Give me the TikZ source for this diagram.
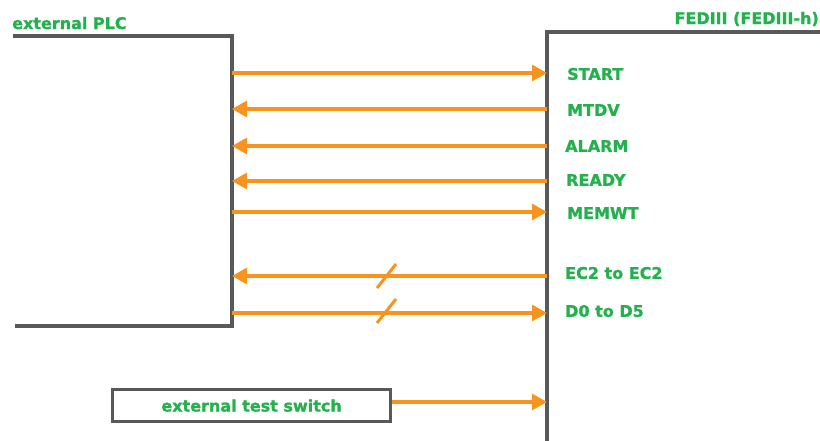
\documentclass[tikz,border=0pt]{standalone}
\usepackage{fontspec}
\setmainfont{DejaVu Sans}[BoldFeatures={FakeBold=1.2}]
\usetikzlibrary{arrows.meta}
\definecolor{lblgreen}{RGB}{34,177,76}
\definecolor{sigorange}{RGB}{247,148,29}
\definecolor{boxgray}{RGB}{89,89,89}
\tikzset{
  lbl/.style={text=lblgreen, font=\bfseries\fontsize{16}{19}\selectfont, inner sep=0pt},
  sig/.style={draw=sigorange, line width=3.3pt, -{Triangle[length=15pt,width=16pt]}},
  frame/.style={draw=boxgray, line width=3.2pt},
  slash/.style={draw=sigorange, line width=3pt}
}
\begin{document}
\begin{tikzpicture}[x=1pt,y=-1pt]
\useasboundingbox (0,0) rectangle (820,440);
% PLC frame
\draw[frame] (13,36) -- (232,36) -- (232,326) -- (15,326);
% FEDIII frame
\draw[frame] (822,32) -- (547,32) -- (547,442);
\node[lbl, anchor=base west] (plc) at (12,29) {external PLC};
\node[lbl, anchor=base east] (fed) at (819,24) {FEDIII (FEDIII-h)};
% signal coordinates
\foreach \n/\y in {start/73, mtdv/109, alarm/146, ready/181, memwt/212, ec/276, d/313}{
  \coordinate (p-\n) at (232,\y);
  \coordinate (f-\n) at (547,\y);
}
\draw[sig] (p-start) -- (f-start);
\draw[sig] (f-mtdv) -- (p-mtdv);
\draw[sig] (f-alarm) -- (p-alarm);
\draw[sig] (f-ready) -- (p-ready);
\draw[sig] (p-memwt) -- (f-memwt);
\draw[sig] (f-ec) -- (p-ec);
\draw[sig] (p-d) -- (f-d);
% bus slashes
\coordinate (s1a) at (377,288); \coordinate (s1b) at (396,264);
\coordinate (s2a) at (377,323); \coordinate (s2b) at (396,299);
\draw[slash] (s1a) -- (s1b);
\draw[slash] (s2a) -- (s2b);
% labels
\node[lbl, anchor=west] (l-start) at (567,74) {START};
\node[lbl, anchor=west] (l-mtdv) at (567,110) {MTDV};
\node[lbl, anchor=west] (l-alarm) at (565,146) {ALARM};
\node[lbl, anchor=west] (l-ready) at (566,180) {READY};
\node[lbl, anchor=west] (l-memwt) at (567,213) {MEMWT};
\node[lbl, anchor=west] (l-ec) at (565,273) {EC2 to EC2};
\node[lbl, anchor=west] (l-d) at (565,311) {D0 to D5};
% test switch
\node[frame, lbl, draw=boxgray, minimum width=278pt, minimum height=32pt, anchor=north west] (sw) at (111,388) {external test switch};
\coordinate (f-sw) at (547,402);
\draw[sig] (sw.east |- f-sw) -- (f-sw);
\end{tikzpicture}
\end{document}
